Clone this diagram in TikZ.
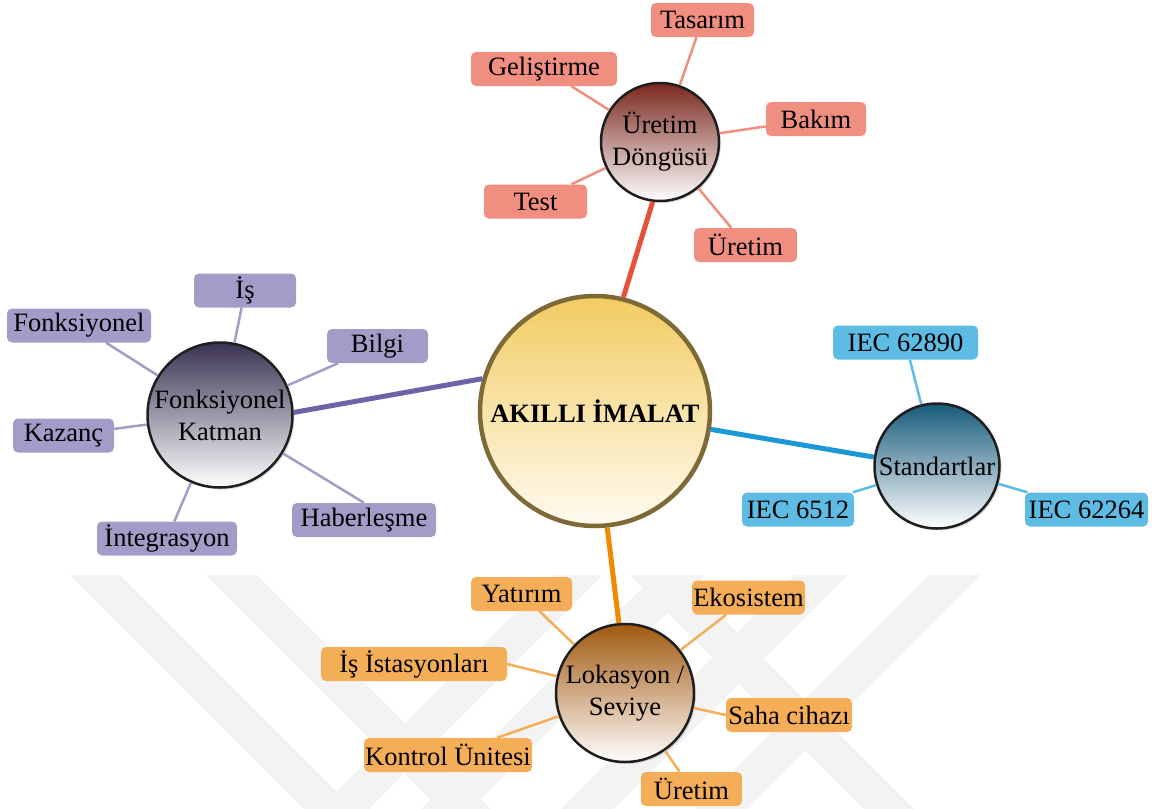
\documentclass[tikz,border=0pt]{standalone}
\usepackage{fontspec}
\setmainfont{Liberation Serif}
\usetikzlibrary{shadows}

% hub fills
\definecolor{aitop}{RGB}{242,204,98}
\definecolor{aibot}{RGB}{255,251,240}
\definecolor{ailine}{RGB}{125,106,55}
\definecolor{udtop}{RGB}{122,40,30}
\definecolor{fktop}{RGB}{58,50,82}
\definecolor{sttop}{RGB}{22,90,122}
\definecolor{lktop}{RGB}{160,88,14}
\definecolor{hubline}{RGB}{30,30,30}
% main spokes
\definecolor{redmain}{RGB}{232,80,58}
\definecolor{purmain}{RGB}{110,98,168}
\definecolor{bluemain}{RGB}{27,152,213}
\definecolor{orgmain}{RGB}{240,136,0}
% leaf boxes
\definecolor{salmon}{RGB}{240,142,128}
\definecolor{lavender}{RGB}{162,156,201}
\definecolor{skyblue}{RGB}{94,188,228}
\definecolor{amber}{RGB}{245,174,88}
\definecolor{wmgray}{RGB}{243,243,243}

\begin{document}
\begin{tikzpicture}[x=1pt,y=-1pt,
  txt/.style={font=\fontsize{26.5}{32}\selectfont},
  leaf/.style={txt, rectangle, rounded corners=5pt, minimum height=34pt, inner sep=0pt, text=black},
  sal/.style={leaf, fill=salmon},
  lav/.style={leaf, fill=lavender},
  sky/.style={leaf, fill=skyblue},
  amb/.style={leaf, fill=amber},
  hub/.style={txt, circle, draw=hubline, line width=2.5pt, inner sep=0pt, align=center,
    drop shadow={opacity=0.25, shadow xshift=2pt, shadow yshift=-2pt}},
  spoke/.style={line width=5pt},
  twig/.style={line width=2.5pt},
  band/.style={fill=wmgray}
]
\useasboundingbox (0,0) rectangle (1152,809);

% background emblem bands
\fill[band] (70,575) -- (120,575) -- (354,809) -- (304,809) -- cycle;
\fill[band] (206,575) -- (257,575) -- (491,809) -- (440,809) -- cycle;
\fill[band] (553,575) -- (603,575) -- (369,809) -- (319,809) -- cycle;
\fill[band] (655,575) -- (705,575) -- (471,809) -- (421,809) -- cycle;
\fill[band] (630,575) -- (680,575) -- (914,809) -- (864,809) -- cycle;
\fill[band] (795,575) -- (848,575) -- (614,809) -- (561,809) -- cycle;
\fill[band] (929,575) -- (980,575) -- (746,809) -- (695,809) -- cycle;

% hubs
\node[hub, draw=ailine, line width=4.5pt, minimum size=230pt, top color=aitop, bottom color=aibot,
  font=\fontsize{26.5}{32}\selectfont\bfseries] (ai) at (595,411) {AKILLI İMALAT};
\node[hub, minimum size=118pt, top color=udtop, bottom color=white] (ud) at (660,142) {Üretim\\Döngüsü};
\node[hub, minimum size=145pt, top color=fktop, bottom color=white] (fk) at (220,415) {Fonksiyonel\\Katman};
\node[hub, minimum size=125pt, top color=sttop, bottom color=white] (st) at (937,466) {Standartlar};
\node[hub, minimum size=138pt, top color=lktop, bottom color=white] (lk) at (625,693) {Lokasyon /\\Seviye};

% production cycle leaves
\node[sal, minimum width=103pt] (tas) at (702.5,20) {Tasarım};
\node[sal, minimum width=146pt] (gel) at (544,69) {Geliştirme};
\node[sal, minimum width=100pt] (bak) at (816,119) {Bakım};
\node[sal, minimum width=103pt] (tst) at (535.5,201.5) {Test};
\node[sal, minimum width=103pt] (ure1) at (745.5,245) {Üretim};

% functional layer leaves
\node[lav, minimum width=102pt] (is) at (245,290.5) {İş};
\node[lav, minimum width=144pt] (fon) at (79,325.5) {Fonksiyonel};
\node[lav, minimum width=101pt] (bil) at (377.5,346) {Bilgi};
\node[lav, minimum width=101pt] (kaz) at (63.5,435.5) {Kazanç};
\node[lav, minimum width=140pt] (int) at (167,538.5) {İntegrasyon};
\node[lav, minimum width=144pt] (hab) at (364,520) {Haberleşme};

% standards leaves
\node[sky, minimum width=145pt] (iec1) at (905.5,342.5) {IEC 62890};
\node[sky, minimum width=112pt] (iec2) at (798,509.5) {IEC 6512};
\node[sky, minimum width=123pt] (iec3) at (1086.5,509.5) {IEC 62264};

% location / level leaves
\node[amb, minimum width=101pt] (yat) at (521.5,594) {Yatırım};
\node[amb, minimum width=113pt] (eko) at (748.5,597.5) {Ekosistem};
\node[amb, minimum width=186pt] (isi) at (414,664) {İş İstasyonları};
\node[amb, minimum width=126pt] (saha) at (789,715) {Saha cihazı};
\node[amb, minimum width=168pt] (kon) at (448,755) {Kontrol Ünitesi};
\node[amb, minimum width=101pt] (ure2) at (691.5,789) {Üretim};

% main spokes
\draw[spoke, redmain] (ud.263) -- (ai.76);
\draw[spoke, purmain] (fk.2) -- (ai.164);
\draw[spoke, bluemain] (ai.-9) -- (st.172);
\draw[spoke, orgmain] (ai.-84) -- (lk.95);

% twigs
\draw[twig, salmon] (tas) -- (ud);
\draw[twig, salmon] (gel) -- (ud);
\draw[twig, salmon] (bak) -- (ud);
\draw[twig, salmon] (tst) -- (ud);
\draw[twig, salmon] (ure1) -- (ud);

\draw[twig, lavender] (is) -- (fk);
\draw[twig, lavender] (fon) -- (fk);
\draw[twig, lavender] (bil) -- (fk);
\draw[twig, lavender] (kaz) -- (fk);
\draw[twig, lavender] (int) -- (fk);
\draw[twig, lavender] (hab.north) -- (fk);

\draw[twig, skyblue] (iec1) -- (st);
\draw[twig, skyblue] (iec2) -- (st);
\draw[twig, skyblue] (iec3) -- (st);

\draw[twig, amber] (yat) -- (lk);
\draw[twig, amber] (eko) -- (lk);
\draw[twig, amber] (isi.east) -- (lk);
\draw[twig, amber] (saha.west) -- (lk);
\draw[twig, amber] (kon) -- (lk);
\draw[twig, amber] (ure2) -- (lk);
\end{tikzpicture}
\end{document}
